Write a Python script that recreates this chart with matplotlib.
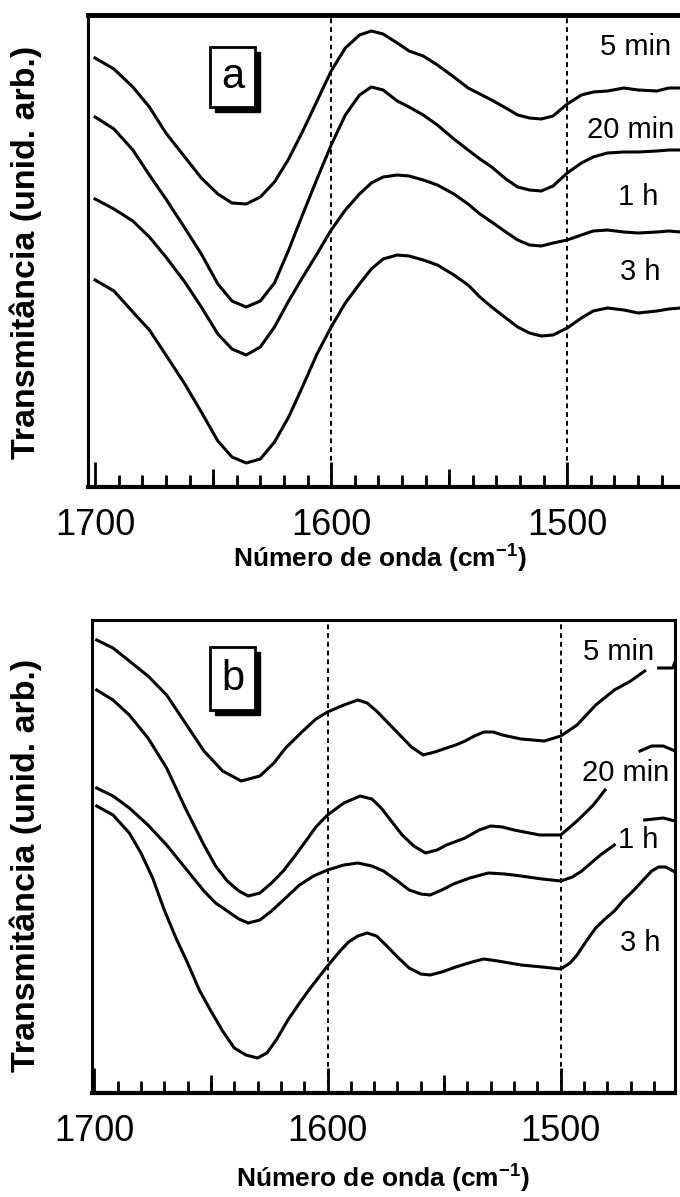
import numpy as np
import matplotlib.pyplot as plt
from matplotlib.patches import Rectangle
from matplotlib.ticker import MultipleLocator, NullLocator

plt.rcParams['font.family'] = ['Liberation Sans', 'DejaVu Sans']
plt.rcParams['mathtext.fontset'] = 'custom'
plt.rcParams['mathtext.rm'] = 'Liberation Sans'
plt.rcParams['mathtext.bf'] = 'Liberation Sans:bold'

nan = np.nan

# ---- painel a (transmitancia em unid. arb.) ----
wn_a = [1700, 1692, 1684, 1677, 1670, 1662, 1655, 1648, 1642, 1636, 1630, 1624,
        1618, 1612, 1606, 1600, 1594, 1588, 1583, 1578, 1572, 1567, 1561, 1555,
        1548, 1542, 1537, 1532, 1526, 1521, 1516, 1511, 1506, 1500, 1494, 1489,
        1483, 1476, 1470, 1462, 1457, 1452]
a_5min = [4.29, 4.18, 4.00, 3.80, 3.54, 3.30, 3.09, 2.93, 2.84, 2.83, 2.90, 3.05,
          3.28, 3.56, 3.86, 4.16, 4.39, 4.52, 4.56, 4.53, 4.44, 4.36, 4.31, 4.22,
          4.10, 3.99, 3.93, 3.87, 3.79, 3.72, 3.69, 3.68, 3.71, 3.83, 3.92, 3.95,
          3.96, 3.99, 3.97, 3.96, 3.99, 3.99]
a_20min = [3.70, 3.58, 3.37, 3.12, 2.88, 2.59, 2.33, 2.03, 1.86, 1.80, 1.86, 2.04,
           2.37, 2.73, 3.08, 3.42, 3.72, 3.92, 4.00, 3.97, 3.86, 3.80, 3.72, 3.62,
           3.48, 3.37, 3.28, 3.20, 3.08, 3.00, 2.97, 2.96, 3.01, 3.14, 3.24, 3.30,
           3.34, 3.35, 3.35, 3.36, 3.37, 3.37]
a_1h = [2.88, 2.78, 2.66, 2.50, 2.30, 2.05, 1.80, 1.53, 1.38, 1.32, 1.40, 1.60,
        1.86, 2.10, 2.33, 2.57, 2.77, 2.93, 3.04, 3.10, 3.12, 3.11, 3.07, 3.02,
        2.93, 2.83, 2.73, 2.65, 2.55, 2.47, 2.42, 2.41, 2.44, 2.47, 2.52, 2.56,
        2.57, 2.55, 2.54, 2.55, 2.56, 2.55]
a_3h = [2.07, 1.96, 1.75, 1.57, 1.32, 1.03, 0.75, 0.46, 0.30, 0.24, 0.28, 0.45,
        0.70, 1.01, 1.33, 1.60, 1.84, 2.03, 2.18, 2.28, 2.32, 2.31, 2.27, 2.22,
        2.12, 2.02, 1.90, 1.80, 1.69, 1.60, 1.54, 1.51, 1.52, 1.59, 1.69, 1.76,
        1.79, 1.77, 1.74, 1.76, 1.78, 1.79]

# ---- painel b ----
wn_b_5min = [1699, 1692, 1685, 1677, 1669, 1661, 1653, 1645, 1637, 1629, 1623, 1618,
             1611, 1605, 1600, 1593, 1587, 1583, 1579, 1574, 1569, 1564, 1559, 1554,
             1549, 1545, 1541, 1537, 1533, 1529, 1525, 1517, 1507, 1500, 1493, 1485,
             1477, 1470, 1464, nan, 1458, 1452, 1451]
b_5min = [4.53, 4.45, 4.32, 4.17, 3.98, 3.70, 3.42, 3.22, 3.12, 3.17, 3.30, 3.45,
          3.61, 3.74, 3.81, 3.88, 3.93, 3.90, 3.82, 3.70, 3.58, 3.46, 3.38, 3.41,
          3.45, 3.48, 3.52, 3.57, 3.61, 3.61, 3.58, 3.54, 3.52, 3.57, 3.68, 3.88,
          4.03, 4.12, 4.22, nan, 4.25, 4.25, 4.31]
wn_b_20min = [1699, 1692, 1685, 1677, 1669, 1661, 1653, 1648, 1643, 1638, 1634, 1629,
              1624, 1619, 1614, 1609, 1605, 1600, 1593, 1586, 1581, 1577, 1572, 1568,
              1563, 1558, 1553, 1549, 1541, 1535, 1530, 1525, 1520, 1509, 1500, 1493,
              1486, 1481, nan, 1466, 1461, 1456, 1451]
b_20min = [4.03, 3.93, 3.78, 3.55, 3.25, 2.85, 2.48, 2.27, 2.12, 2.02, 1.97, 2.00,
           2.10, 2.22, 2.37, 2.53, 2.66, 2.78, 2.90, 2.97, 2.94, 2.85, 2.70, 2.58,
           2.47, 2.40, 2.43, 2.48, 2.55, 2.63, 2.67, 2.66, 2.63, 2.58, 2.58, 2.72,
           2.88, 3.03, nan, 3.42, 3.47, 3.47, 3.42]
wn_b_1h = [1699, 1692, 1685, 1677, 1669, 1661, 1653, 1648, 1643, 1638, 1634, 1629,
           1624, 1618, 1612, 1606, 1600, 1593, 1587, 1581, 1576, 1570, 1565, 1560,
           1556, 1551, 1546, 1539, 1531, 1524, 1517, 1508, 1500, 1495, 1491, 1487,
           1483, 1477, nan, 1464, 1456, 1451]
b_1h = [3.05, 2.97, 2.85, 2.68, 2.48, 2.25, 2.02, 1.90, 1.82, 1.74, 1.70, 1.73,
        1.82, 1.95, 2.08, 2.17, 2.23, 2.28, 2.30, 2.27, 2.22, 2.12, 2.03, 1.99,
        1.98, 2.03, 2.09, 2.15, 2.20, 2.19, 2.17, 2.14, 2.12, 2.16, 2.22, 2.30,
        2.38, 2.48, nan, 2.73, 2.75, 2.72]
wn_b_3h = [1699, 1692, 1685, 1680, 1675, 1670, 1665, 1660, 1655, 1650, 1645, 1640,
           1635, 1630, 1626, 1622, 1617, 1612, 1608, 1604, 1600, 1595, 1591, 1587,
           1583, 1579, 1575, 1570, 1565, 1560, 1556, 1551, 1545, 1538, 1533, 1527,
           1517, 1508, 1500, 1496, 1493, 1489, 1485, 1481, 1477, 1473, 1469, 1465,
           1461, 1458, 1455, 1451]
b_3h = [2.87, 2.78, 2.60, 2.40, 2.15, 1.83, 1.55, 1.30, 1.03, 0.82, 0.62, 0.45,
        0.38, 0.35, 0.40, 0.53, 0.73, 0.90, 1.03, 1.15, 1.27, 1.41, 1.51, 1.57,
        1.60, 1.57, 1.48, 1.36, 1.25, 1.19, 1.18, 1.21, 1.26, 1.31, 1.34, 1.32,
        1.28, 1.26, 1.24, 1.30, 1.38, 1.52, 1.65, 1.74, 1.82, 1.93, 2.02, 2.12,
        2.22, 2.26, 2.26, 2.21]

rotulos = ['5 min', '20 min', '1 h', '3 h']
ylab = 'Transmitância (unid. arb.)'
xlab = r'Número de onda (cm$^{\mathbf{-1}}$)'

W, H = 680, 1197
fig = plt.figure(figsize=(W / 100, H / 100), dpi=100)


def eixo(l, t, r, b):
    return fig.add_axes([l / W, 1 - b / H, (r - l) / W, (b - t) / H])


def caixa(letra, l, t, r, b):
    # caixa com sombra (letra do painel)
    fig.add_artist(Rectangle(((l + 5) / W, 1 - (b + 5) / H), (r - l) / W, (b - t) / H,
                             transform=fig.transFigure, fc='k', ec='k', lw=1))
    fig.add_artist(Rectangle((l / W, 1 - b / H), (r - l) / W, (b - t) / H,
                             transform=fig.transFigure, fc='white', ec='k', lw=2))
    fig.text((l + r) / 2 / W, 1 - (t + b) / 2 / H, letra, fontsize=30,
             ha='center', va='center')


def estilo(ax, xlim, ylim, top_lw):
    ax.set_xlim(*xlim)
    ax.set_ylim(*ylim)
    ax.set_yticks([])
    ax.set_xticks([1700, 1600, 1500])
    ax.xaxis.set_minor_locator(MultipleLocator(10))
    ax.tick_params(which='major', direction='in', length=18, width=2,
                   pad=15, labelsize=26, top=False)
    ax.tick_params(which='minor', direction='in', length=9, width=2, top=False)
    sec = ax.secondary_xaxis('bottom')
    sec.set_xticks([1650, 1550])
    sec.xaxis.set_minor_locator(NullLocator())
    sec.tick_params(direction='in', length=13, width=2, labelbottom=False)
    sec.spines['bottom'].set_visible(False)
    ax.spines['left'].set_linewidth(2.2)
    ax.spines['right'].set_linewidth(2.2)
    ax.spines['bottom'].set_linewidth(3)
    ax.spines['top'].set_linewidth(top_lw)
    for w in (1600, 1500):
        ax.axvline(w, color='k', lw=1.4, ls=(0, (2.5, 2)))


# painel a
ax_a = eixo(88, 15, 690, 487)
estilo(ax_a, (1703, 1448), (0, 4.72), 3.5)
for serie in (a_5min, a_20min, a_1h, a_3h):
    ax_a.plot(wn_a, serie, color='k', lw=2.2, solid_joinstyle='round')
pos_a = [(1471, 4.40), (1473, 3.57), (1470, 2.90), (1469, 2.15)]
for txt, (x, y) in zip(rotulos, pos_a):
    ax_a.text(x, y, txt, fontsize=21, ha='center', va='center')
caixa('a', 210, 47, 255, 107)
fig.text(26 / W, 1 - 252 / H, ylab, rotation=90, fontsize=24.5,
         fontweight='bold', ha='center', va='center')
fig.text(380 / W, 1 - 558 / H, xlab, fontsize=19, fontweight='bold',
         ha='center', va='center')

# painel b
ax_b = eixo(92, 620, 675, 1093)
estilo(ax_b, (1701, 1451), (0, 4.73), 2.2)
curvas_b = [(wn_b_5min, b_5min), (wn_b_20min, b_20min), (wn_b_1h, b_1h), (wn_b_3h, b_3h)]
for x, y in curvas_b:
    ax_b.plot(x, y, color='k', lw=2.2, solid_joinstyle='round')
pos_b = [(1475, 4.41), (1472, 3.20), (1467, 2.53), (1466, 1.50)]
for txt, (x, y) in zip(rotulos, pos_b):
    ax_b.text(x, y, txt, fontsize=21, ha='center', va='center')
caixa('b', 210, 647, 255, 710)
fig.text(26 / W, 1 - 865 / H, ylab, rotation=90, fontsize=24.5,
         fontweight='bold', ha='center', va='center')
fig.text(383 / W, 1 - 1178 / H, xlab, fontsize=19, fontweight='bold',
         ha='center', va='center')

fig.savefig('out.png', dpi=100)
